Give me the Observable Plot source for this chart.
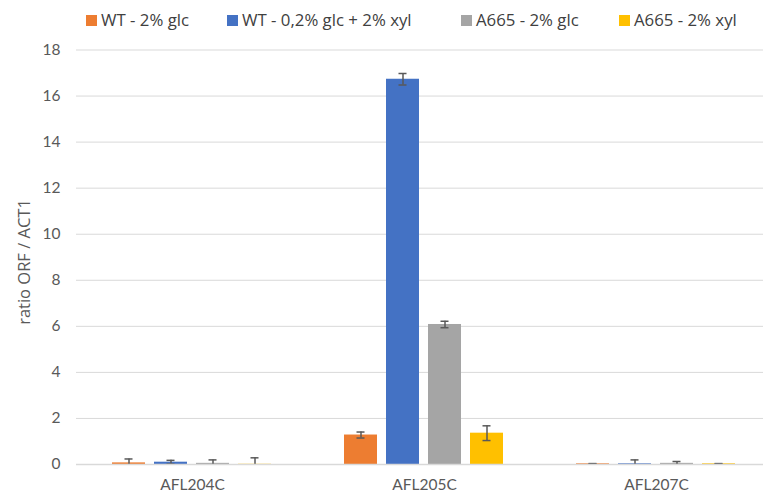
<!DOCTYPE html>
<html>
<head>
<meta charset="utf-8">
<script src="https://cdn.jsdelivr.net/npm/d3@7"></script>
<script src="https://cdn.jsdelivr.net/npm/@observablehq/plot@0.6"></script>
<style>
  body { margin: 0; background: #fff; font-family: Lato, "Liberation Sans", sans-serif; color: #595959; }
  #legend { position: relative; width: 763px; height: 30px; }
  .item { position: absolute; top: 9px; font-family: "Open Sans", sans-serif; font-size: 16.8px; line-height: 22px; white-space: nowrap; color: #404040; }
  .sw { position: absolute; top: 6px; width: 11px; height: 11px; }
  .lbl { position: absolute; left: 15px; top: 0; }
  #chart svg { display: block; }
</style>
</head>
<body>
<div id="legend"></div>
<div id="chart"></div>
<script>
// Genes on the x axis
const categories = ["AFL204C", "AFL205C", "AFL207C"];
// Strain / medium conditions
const series = ["WT - 2% glc", "WT - 0,2% glc + 2% xyl", "A665 - 2% glc", "A665 - 2% xyl"];
const colors = ["#ED7D31", "#4472C4", "#A5A5A5", "#FFC000"];

// Mean ratio ORF / ACT1 for each gene, per condition
const wtGlc     = [0.07, 1.28, 0.03];
const wtGlcXyl  = [0.10, 16.73, 0.03];
const a665Glc   = [0.05, 6.08, 0.05];
const a665Xyl   = [0.01, 1.36, 0.03];

// Standard deviations
const wtGlcErr    = [0.17, 0.13, 0.01];
const wtGlcXylErr = [0.08, 0.25, 0.17];
const a665GlcErr  = [0.15, 0.14, 0.08];
const a665XylErr  = [0.28, 0.32, 0.01];

const yTicks = [0, 2, 4, 6, 8, 10, 12, 14, 16, 18];

const means = [wtGlc, wtGlcXyl, a665Glc, a665Xyl];
const errs = [wtGlcErr, wtGlcXylErr, a665GlcErr, a665XylErr];
const rows = [];
categories.forEach((gene, i) => {
  series.forEach((s, j) => {
    rows.push({gene, condition: s, value: means[j][i], err: errs[j][i]});
  });
});

// Legend
const legend = document.getElementById("legend");
const legendLeft = [86, 227, 461, 619];
series.forEach((s, j) => {
  const item = document.createElement("div");
  item.className = "item";
  item.style.left = legendLeft[j] + "px";
  item.innerHTML = `<span class="sw" style="background:${colors[j]}"></span><span class="lbl">${s}</span>`;
  legend.appendChild(item);
});

const chart = Plot.plot({
  width: 763,
  height: 469,
  marginLeft: 76,
  marginRight: -9,
  marginTop: 19.5,
  marginBottom: 35,
  style: { fontFamily: "Lato, 'Liberation Sans', sans-serif", fontSize: "15.5px", color: "#595959", background: "#fff" },
  fx: { domain: categories, padding: 0, axis: "bottom", label: null, tickSize: 0, tickPadding: 14 },
  x: { domain: series, paddingInner: 0.21, paddingOuter: 0.835, axis: null },
  y: { domain: [0, 18], ticks: yTicks, tickSize: 0, tickPadding: 16, label: null, grid: false },
  color: { domain: series, range: colors },
  facet: { data: rows, x: "gene" },
  marks: [
    Plot.ruleY(yTicks, { stroke: "#d9d9d9", strokeWidth: 1 }),
    Plot.barY(rows, { x: "condition", y: "value", fill: "condition" }),
    Plot.ruleX(rows, { x: "condition", y1: d => d.value - d.err, y2: d => d.value + d.err, stroke: "#595959", strokeWidth: 1.5, clip: true }),
    Plot.tickY(rows, { x: "condition", y: d => d.value + d.err, stroke: "#595959", strokeWidth: 1.5, insetLeft: 12.5, insetRight: 12.5, clip: true }),
    Plot.tickY(rows, { x: "condition", y: d => d.value - d.err, stroke: "#595959", strokeWidth: 1.5, insetLeft: 12.5, insetRight: 12.5, clip: true }),
    Plot.ruleY([0], { stroke: "#d9d9d9", strokeWidth: 1.5 })
  ]
});

// Rotated y-axis title
const svg = d3.select(chart);
svg.append("text")
  .attr("transform", "translate(23,232) rotate(-90)")
  .attr("text-anchor", "middle")
  .attr("dominant-baseline", "central")
  .attr("fill", "#595959")
  .style("font-family", "'Open Sans', sans-serif")
  .style("font-size", "16.5px")
  .text("ratio ORF / ACT1");

document.getElementById("chart").appendChild(chart);
</script>
</body>
</html>
